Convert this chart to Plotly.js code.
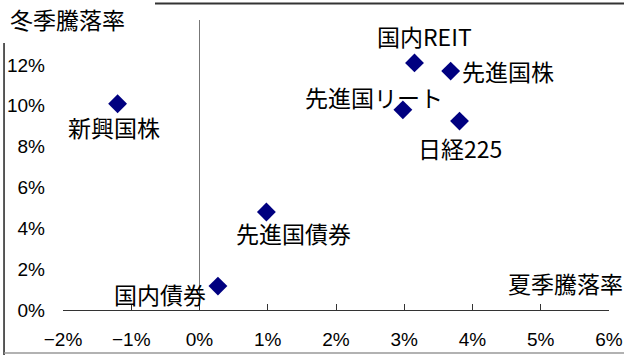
<!DOCTYPE html>
<html>
<head>
<meta charset="utf-8">
<script src="https://cdn.plot.ly/plotly-3.0.1.min.js"></script>
<style>html,body{margin:0;padding:0;background:#fff;}#chart{width:624px;height:355px;}</style>
</head>
<body>
<div id="chart"></div>
<script>
// ---- data ----
var names = ['新興国株', '国内REIT', '先進国株', '先進国リート', '日経225', '先進国債券', '国内債券'];
var summerReturn = [-1.2, 3.15, 3.68, 2.98, 3.81, 0.98, 0.27];   // x: 夏季騰落率 (%)
var winterReturn = [10.1, 12.1, 11.7, 9.8, 9.25, 4.8, 1.17];     // y: 冬季騰落率 (%)
var xTickVals = [-2, -1, 0, 1, 2, 3, 4, 5, 6];
var xTickLabels = ['−2%', '−1%', '0%', '1%', '2%', '3%', '4%', '5%', '6%'];
var yTickVals = [0, 2, 4, 6, 8, 10, 12];
var yTickLabels = ['0%', '2%', '4%', '6%', '8%', '10%', '12%'];
var xTitle = '夏季騰落率';
var yTitle = '冬季騰落率';

// ---- label placement (style) ----
var labelPos = [
  {xanchor: 'center', xshift: -4, yshift: -23},
  {xanchor: 'center', xshift: 10, yshift: 27},
  {xanchor: 'left', xshift: 9, yshift: 0},
  {xanchor: 'center', xshift: -29, yshift: 13},
  {xanchor: 'center', xshift: 0, yshift: -27},
  {xanchor: 'center', xshift: 27, yshift: -21},
  {xanchor: 'right', xshift: -10, yshift: -8}
];

var cjk = 'Noto Sans CJK JP, sans-serif';
var labelFont = {family: cjk, size: 23, color: '#000'};
var tickFont = {family: 'Liberation Sans Narrow, Arial Narrow, Liberation Sans, sans-serif', size: 19, color: '#000'};

var annotations = names.map(function (n, i) {
  return {
    x: summerReturn[i], y: winterReturn[i], xref: 'x', yref: 'y',
    text: n, showarrow: false,
    xanchor: labelPos[i].xanchor, yanchor: 'middle',
    xshift: labelPos[i].xshift, yshift: labelPos[i].yshift,
    font: labelFont
  };
});
annotations.push({
  xref: 'paper', yref: 'paper', x: -0.1007, y: 1.0034, xanchor: 'left', yanchor: 'middle',
  text: yTitle, showarrow: false, font: labelFont
});
annotations.push({
  xref: 'paper', yref: 'paper', x: 1.029, y: 0.0948, xanchor: 'right', yanchor: 'middle',
  text: xTitle, showarrow: false, font: labelFont
});

var trace = {
  type: 'scatter', mode: 'markers',
  x: summerReturn, y: winterReturn,
  marker: {symbol: 'diamond', size: 14.5, color: '#000080', line: {width: 0}},
  hoverinfo: 'skip'
};

var layout = {
  width: 624, height: 355,
  margin: {l: 63, r: 15, t: 20, b: 45, pad: 0},
  paper_bgcolor: '#fff', plot_bgcolor: '#fff',
  showlegend: false,
  xaxis: {
    range: [-2, 6], tickvals: xTickVals, ticktext: xTickLabels,
    showline: true, linecolor: '#333', linewidth: 1,
    ticks: 'inside', ticklen: 6, tickcolor: '#333', tickwidth: 1,
    showgrid: false, zeroline: true, zerolinecolor: '#777', zerolinewidth: 1.5,
    ticklabelstandoff: 12, tickfont: tickFont, fixedrange: true
  },
  yaxis: {
    range: [0, 14.2], tickvals: yTickVals, ticktext: yTickLabels,
    showline: false, ticks: '', showgrid: false, zeroline: false,
    ticklabelstandoff: 17, tickfont: tickFont, fixedrange: true
  },
  annotations: annotations,
  shapes: [
    {type: 'line', xref: 'paper', yref: 'paper', x0: 0.1685, x1: 1.03, y0: 1.0569, y1: 1.0569,
     line: {color: '#333', width: 2}},
    {type: 'line', xref: 'paper', yref: 'paper', x0: -0.108, x1: -0.108, y0: 0.9207, y1: -0.16,
     line: {color: '#222', width: 1.5}},
    {type: 'line', xref: 'paper', yref: 'paper', x0: -0.108, x1: 1.03, y0: -0.148, y1: -0.148,
     line: {color: '#999', width: 1.5}}
  ]
};

Plotly.newPlot('chart', [trace], layout, {displayModeBar: false, staticPlot: true});
</script>
</body>
</html>
